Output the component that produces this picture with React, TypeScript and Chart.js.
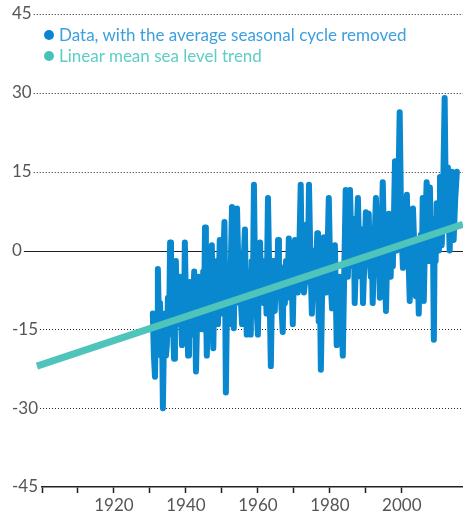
import React, { useEffect, useRef } from "react";
import { Chart, registerables } from "chart.js";

Chart.register(...registerables);

// Sea level anomaly with seasonal cycle removed: [year, value]
const seaLevelSeries: [number, number][] = [
  [1930.8, -12], [1931.1, -20], [1931.4, -24], [1931.7, -12], [1932.0, -16], [1932.2, -3.5],
  [1932.5, -14], [1932.8, -10], [1933.1, -20], [1933.35, -14], [1933.6, -30], [1933.9, -16],
  [1934.2, -12], [1934.45, -20], [1934.7, -18], [1935.0, -9], [1935.3, -16], [1935.6, 1.5],
  [1935.85, -8], [1936.1, -10], [1936.4, -14], [1936.7, -20.6], [1936.95, -8], [1937.2, -2],
  [1937.5, -12], [1937.8, -8], [1938.05, -14], [1938.3, -5], [1938.6, -12], [1938.9, -18],
  [1939.2, -8], [1939.45, -14], [1939.7, 1.5], [1940.0, -10], [1940.3, -6], [1940.6, -20],
  [1940.85, -12], [1941.1, -6], [1941.5, -16], [1941.9, -12], [1942.3, -4], [1942.8, -23],
  [1943.2, -10], [1943.6, -5], [1944.0, -13], [1944.4, -15], [1944.8, -4], [1945.05, -12],
  [1945.3, 4.4], [1945.55, -8], [1945.8, -20], [1946.2, -9], [1946.45, -14], [1946.7, -7],
  [1946.95, -13], [1947.2, 1], [1947.4, -10], [1947.6, -18.6], [1947.95, -6], [1948.3, -10],
  [1948.6, -2], [1948.9, -14], [1949.15, -6], [1949.4, 2], [1949.7, -9], [1950.0, -12],
  [1950.35, -3], [1950.7, 5.4], [1950.9, -8], [1951.1, -27], [1951.5, -4], [1951.9, -8],
  [1952.2, -14], [1952.5, -2], [1952.8, 8.3], [1953.05, -6], [1953.3, -14.8], [1953.6, -3],
  [1953.9, -10], [1954.2, 8], [1954.6, -4], [1955.0, -6], [1955.3, -10], [1955.6, -14],
  [1956.0, -3], [1956.4, 4], [1956.65, -8], [1956.9, -16], [1957.2, -6], [1957.5, -4],
  [1957.75, -12], [1958.0, -16], [1958.3, -2], [1958.6, -8], [1958.9, 12.5], [1959.15, -2],
  [1959.4, -5], [1959.7, -12], [1960.0, -16], [1960.3, -4], [1960.6, 1.5], [1960.9, -8],
  [1961.3, -3], [1961.7, -10], [1962.0, -2], [1962.4, -12], [1962.8, 10], [1963.2, -6],
  [1963.6, -22], [1963.9, -8], [1964.2, -2], [1964.45, -10], [1964.7, -11.5], [1965.0, -3],
  [1965.3, -9], [1965.6, 2], [1965.85, -8], [1966.1, -3], [1966.5, -10], [1966.9, -15.5],
  [1967.2, -4], [1967.5, -10], [1967.8, -2], [1968.2, -9], [1968.6, 2.3], [1968.9, -6],
  [1969.3, -3], [1969.7, -14], [1970.0, -4], [1970.3, 2], [1970.7, -6], [1971.1, -8],
  [1971.5, 0], [1971.9, 12.5], [1972.2, -4], [1972.5, 2], [1972.8, -8], [1973.1, -6],
  [1973.35, 0], [1973.6, 5], [1973.9, -4], [1974.2, 12.5], [1974.6, -2], [1975.0, -12],
  [1975.4, -4], [1975.8, 0], [1976.1, -6], [1976.5, 3.3], [1976.7, -6], [1976.9, -13.5],
  [1977.2, -4], [1977.5, -22.7], [1977.9, -6], [1978.3, 2.5], [1978.6, -4], [1978.9, -8],
  [1979.3, -2], [1979.7, 10], [1980.1, -4], [1980.6, -11], [1981.0, -2], [1981.4, 1],
  [1981.65, -8], [1981.9, -18], [1982.3, -6], [1982.8, -5], [1983.2, -12], [1983.6, -20],
  [1984.0, -4], [1984.4, 11.5], [1984.7, 2], [1985.0, -5], [1985.3, 4], [1985.6, 11.5],
  [1986.0, 0], [1986.4, -3], [1986.65, 6], [1986.9, -10], [1987.35, 0], [1987.8, 10],
  [1988.2, -2], [1988.6, -5], [1988.9, 4], [1989.2, -10], [1989.6, -2], [1990.0, 7.3],
  [1990.2, 0], [1990.4, -2], [1990.6, 4], [1990.8, 7], [1991.1, -2], [1991.4, -5],
  [1991.65, 2], [1991.9, -10], [1992.35, 0], [1992.8, 10], [1993.05, 2], [1993.3, -2],
  [1993.6, 4], [1993.9, -9], [1994.3, 2], [1994.7, 13], [1995.1, 0], [1995.6, -11.5],
  [1996.0, 2], [1996.4, 7], [1996.65, -2], [1996.9, -5], [1997.2, 4], [1997.5, -3],
  [1997.8, 6], [1998.1, 17], [1998.35, 4], [1998.6, 0], [1999.0, 10], [1999.4, 26.3],
  [1999.8, 6], [2000.3, -3.3], [2000.55, 4], [2000.8, 5], [2001.1, -2], [2001.4, 10.6],
  [2001.8, 0], [2002.2, -9.6], [2002.6, 2], [2003.1, 8], [2003.5, 0], [2003.9, -8.7],
  [2004.3, 2], [2004.7, -12], [2005.0, -2], [2005.3, 3], [2005.55, -4], [2005.8, 10],
  [2006.0, 2], [2006.1, -9.6], [2006.5, 4], [2006.9, 13], [2007.2, 2], [2007.5, -2],
  [2007.65, 6], [2007.8, 12], [2008.05, 4], [2008.3, 0], [2008.6, 6], [2008.9, -17],
  [2009.15, 4], [2009.4, -2], [2009.55, 5], [2009.7, 9], [2010.0, 2], [2010.3, 0],
  [2010.45, 8], [2010.6, 14], [2010.85, 4], [2011.1, 1], [2011.5, 12], [2011.9, 29],
  [2012.2, 10], [2012.5, 5], [2012.65, 10], [2012.8, 15.8], [2013.05, 6], [2013.3, 0],
  [2013.6, 8], [2013.9, 15], [2014.15, 6], [2014.4, 2], [2014.85, 10], [2015.3, 15],
];

const trendYears = [1898.6, 2017];
const trendValues = [-22, 5];

const yTicks = [45, 30, 15, 0, -15, -30, -45];
const xLabelYears = [1920, 1940, 1960, 1980, 2000];

const legendItems = [
  { label: "Data, with the average seasonal cycle removed", dot: "#0a86d0", text: "#3d9fe0" },
  { label: "Linear mean sea level trend", dot: "#45c3ba", text: "#5ccec6" },
];

const FONT = "Lato, 'Open Sans', sans-serif";

const gridPlugin = {
  id: "leftGrid",
  beforeDatasetsDraw(chart: any) {
    const { ctx, chartArea, scales } = chart;
    const y = scales.y;
    ctx.save();
    ctx.font = `17px ${FONT}`;
    y.ticks.forEach((t: any) => {
      if (t.value === -45) return;
      const py = Math.round(y.getPixelForValue(t.value)) + 0.5;
      const w = ctx.measureText(String(t.value)).width;
      const x0 = 12 + w + 2;
      ctx.beginPath();
      if (t.value === 0) {
        ctx.setLineDash([]);
        ctx.strokeStyle = "#222";
        ctx.lineWidth = 1.2;
      } else {
        ctx.setLineDash([1, 2]);
        ctx.strokeStyle = "#222";
        ctx.lineWidth = 1;
      }
      ctx.moveTo(x0, py);
      ctx.lineTo(chartArea.right, py);
      ctx.stroke();
    });
    ctx.restore();
  },
};

function SeaLevelChart() {
  const ref = useRef<HTMLCanvasElement>(null);
  useEffect(() => {
    if (!ref.current) return;
    const chart = new Chart(ref.current, {
      type: "line",
      data: {
        datasets: [
          {
            label: "Linear mean sea level trend",
            data: trendYears.map((x, i) => ({ x, y: trendValues[i] })),
            borderColor: "#4ec4bb",
            borderWidth: 7,
            pointRadius: 0,
            order: 0,
            clip: false as any,
          },
          {
            label: "Data, with the average seasonal cycle removed",
            data: seaLevelSeries.map(([x, y]) => ({ x, y })),
            borderColor: "#0a88cf",
            borderWidth: 6,
            pointRadius: 0,
            tension: 0,
            borderCapStyle: "round",
            borderJoinStyle: "round",
            order: 1,
          },
        ],
      },
      options: {
        responsive: false,
        animation: false,
        layout: { padding: { top: 14, left: 12, right: 0, bottom: 0 } },
        plugins: { legend: { display: false }, tooltip: { enabled: false } },
        scales: {
          x: {
            type: "linear",
            min: 1900,
            max: 2017,
            afterBuildTicks: (s: any) => {
              s.ticks = s.ticks.filter((t: any) => t.value % 10 === 0);
            },
            afterFit: (s: any) => {
              s.height = 26;
            },
            ticks: {
              stepSize: 10,
              autoSkip: false,
              maxRotation: 0,
              padding: 2,
              color: "#555",
              font: { family: FONT, size: 17 },
              callback: (v: any) => (xLabelYears.includes(Number(v)) ? String(v) : ""),
            },
            grid: {
              drawOnChartArea: false,
              drawTicks: true,
              tickLength: 6,
              tickColor: "#222",
              tickWidth: 1.5,
            },
            border: { display: true, color: "#222", width: 1.5 },
          },
          y: {
            min: -45,
            max: 45,
            afterBuildTicks: (s: any) => {
              s.ticks = yTicks.map((v) => ({ value: v }));
            },
            afterFit: (s: any) => {
              s.width = 30;
            },
            ticks: {
              crossAlign: "far",
              padding: 0,
              color: "#555",
              font: { family: FONT, size: 17 },
            },
            grid: { display: false },
            border: { display: false },
          },
        },
      },
      plugins: [gridPlugin],
    } as any);
    return () => chart.destroy();
  }, []);
  return <canvas ref={ref} width={463} height={513} style={{ display: "block" }} />;
}

export default function App() {
  return (
    <div style={{ position: "absolute", left: 0, top: 0, width: 463, height: 513, background: "#fff" }}>
      <SeaLevelChart />
      {legendItems.map((it, i) => (
        <div
          key={it.label}
          style={{
            position: "absolute",
            left: 44,
            top: 25 + i * 21,
            height: 20,
            display: "flex",
            alignItems: "center",
            fontFamily: FONT,
            fontSize: 17,
            lineHeight: "20px",
            color: it.text,
            whiteSpace: "nowrap",
          }}
        >
          <span
            style={{
              display: "inline-block",
              width: 10,
              height: 10,
              borderRadius: "50%",
              background: it.dot,
              marginRight: 5,
            }}
          />
          {it.label}
        </div>
      ))}
    </div>
  );
}
